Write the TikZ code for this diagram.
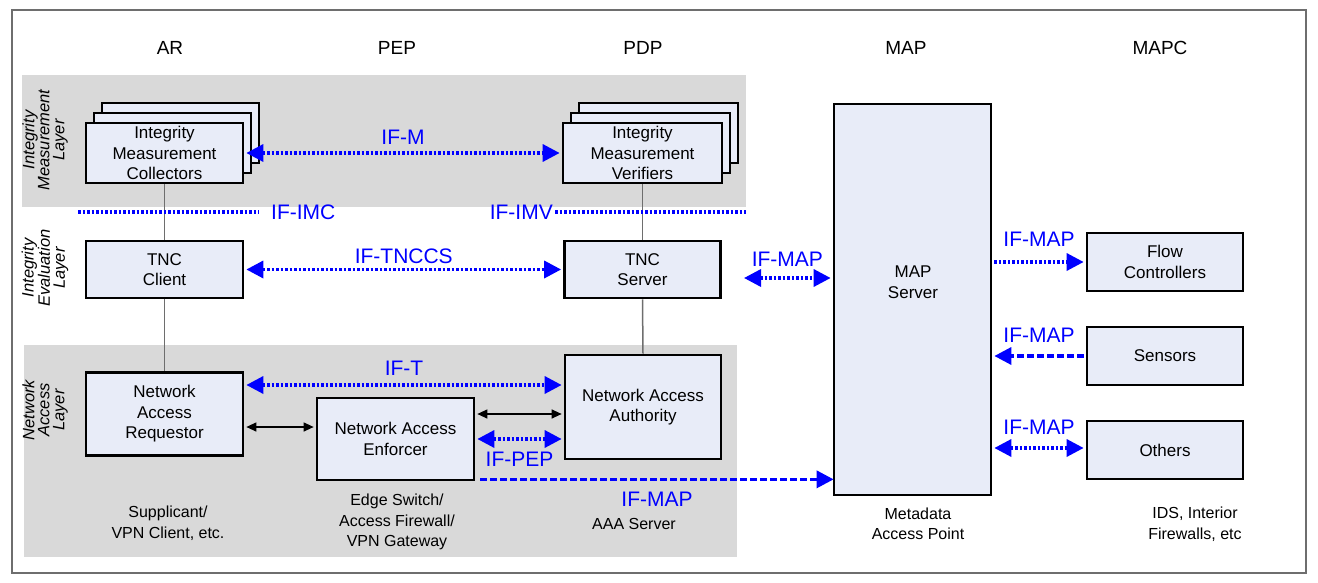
\documentclass[tikz,border=0pt]{standalone}
\usepackage{fontspec}
\setmainfont{Liberation Sans}
\usetikzlibrary{arrows.meta,calc}
\definecolor{boxfill}{HTML}{E8ECF8}
\definecolor{layergray}{HTML}{D9D9D9}
\definecolor{wiregray}{HTML}{6E6E6E}
\tikzset{
  bigtip/.tip={Triangle[length=17pt,width=17pt]},
  smalltip/.tip={Triangle[length=10pt,width=9pt]},
  comp/.style={draw,line width=2.7pt,fill=boxfill,align=center,inner sep=0pt,
    font=\fontsize{17}{20.5}\selectfont},
  ifdot/.style={blue,line width=3.4pt,dash pattern=on 2.6pt off 1.9pt,shorten <=2pt,shorten >=2pt},
  ifdash/.style={blue,line width=3.4pt,dash pattern=on 6.5pt off 3.5pt,shorten <=2pt,shorten >=2pt},
  iflabel/.style={blue,inner sep=0pt,font=\fontsize{21}{24}\selectfont},
  wire/.style={wiregray,line width=1.5pt},
  plain/.style={black,line width=1.2pt,smalltip-smalltip,shorten <=2pt,shorten >=2pt},
  head/.style={font=\fontsize{19}{22}\selectfont},
  note/.style={align=center,font=\fontsize{16}{20.5}\selectfont},
  layer/.style={rotate=90,align=center,font=\fontsize{16.5}{15}\itshape}
}
\begin{document}
\begin{tikzpicture}[x=1pt,y=-1pt]
    \useasboundingbox (0,0) rectangle (1318,583);
    \draw[wiregray,line width=1.4pt] (12,10) rectangle (1306,573);
    \fill[layergray] (22,75) rectangle (746,207);
    \fill[layergray] (24,345) rectangle (737,557);

    \node[head] (ar) at (170,48) {AR};
    \node[head] (pep) at (397,48) {PEP};
    \node[head] (pdp) at (643,48) {PDP};
    \node[head] (map0) at (906,48) {MAP};
    \node[head] (mapc) at (1160,48) {MAPC};

    \node[layer] (lim) at (45,140) {Integrity\\Measurement\\Layer};
    \node[layer] (lie) at (45,268) {Integrity\\Evaluation\\Layer};
    \node[layer] (lna) at (45,410) {Network\\Access\\Layer};

    \begin{scope}[every node/.style={comp}]
    \node[minimum width=157pt,minimum height=60pt] (imc3) at (180.5,133) {};
    \node[minimum width=157pt,minimum height=60pt] (imc2) at (172.5,143) {};
    \node[minimum width=157pt,minimum height=60pt] (imc) at (164.5,153) {Integrity\\Measurement\\Collectors};
    \node[minimum width=159pt,minimum height=60pt] (imv3) at (658.5,133) {};
    \node[minimum width=159pt,minimum height=60pt] (imv2) at (650.5,143) {};
    \node[minimum width=159pt,minimum height=60pt] (imv) at (642.5,153) {Integrity\\Measurement\\Verifiers};
    \node[minimum width=157pt,minimum height=57pt] (tncc) at (164.5,269.5) {TNC\\Client};
    \node[minimum width=156pt,minimum height=57pt] (tncs) at (642.5,269.5) {TNC\\Server};
    \node[minimum width=157pt,minimum height=83pt] (nar) at (164.5,414) {Network\\Access\\Requestor};
    \node[minimum width=157pt,minimum height=82pt] (nae) at (395.5,439) {Network Access\\Enforcer};
    \node[minimum width=156pt,minimum height=104pt] (naa) at (643,407) {Network Access\\Authority};
    \node[minimum width=157pt,minimum height=391pt] (map) at (912.5,299.5) {};
    \node[minimum width=156pt,minimum height=58pt] (flow) at (1165,262) {Flow\\Controllers};
    \node[minimum width=156pt,minimum height=58pt] (sens) at (1165,356) {Sensors};
    \node[minimum width=156pt,minimum height=58pt] (oth) at (1165,450) {Others};
    \end{scope}
    \node[align=center,font=\fontsize{17}{20.5}\selectfont] (maptxt) at (913,282) {MAP\\Server};

    \draw[wire] (imc.south) -- (tncc.north);
    \draw[wire] (tncc.south) -- (nar.north);
    \draw[wire] (imv.south) -- (tncs.north);
    \draw[wire] (tncs.south) -- (naa.north);

    \node[iflabel,anchor=west] (ifimc) at (271,212) {IF-IMC};
    \node[iflabel,anchor=east] (ifimv) at (553,212) {IF-IMV};
    \draw[blue,line width=3.4pt,dash pattern=on 2.6pt off 1.9pt] (78,212) -- ([xshift=-12pt]ifimc.west);
    \draw[blue,line width=3.4pt,dash pattern=on 2.6pt off 1.9pt] ([xshift=2pt]ifimv.east) -- (746,212);

    \draw[ifdot,bigtip-bigtip] (imc.east) -- node[iflabel,above=7pt] (ifm) {IF-M} (imv.west);
    \draw[ifdot,bigtip-bigtip] (tncc.east) -- node[iflabel,above=4pt] (iftnccs) {IF-TNCCS} (tncs.west);
    \draw[ifdot,bigtip-bigtip] ([yshift=29pt]nar.east) -- node[iflabel,above=8pt] (ift) {IF-T} ([yshift=29pt]nar.east -| naa.west);
    \draw[plain] ([yshift=-13pt]nar.east) -- ([yshift=-13pt]nar.east -| nae.west);
    \draw[plain] ([yshift=25pt]nae.east) -- ([yshift=25pt]nae.east -| naa.west);
    \draw[ifdot,bigtip-bigtip] (nae.east) -- node[iflabel,below=11pt] (ifpep) {IF-PEP} (nae.east -| naa.west);
    \draw[ifdash,-bigtip] ([xshift=3pt,yshift=2pt]nae.south east) -- node[iflabel,below=11pt] (ifmap1) {IF-MAP} ([xshift=3pt,yshift=2pt]nae.south east -| map.west);

    \coordinate (mapin) at (742,278);
    \draw[ifdot,bigtip-bigtip] (mapin) -- node[iflabel,above=10pt] (ifmap2) {IF-MAP} (mapin -| map.west);
    \draw[ifdot,-bigtip] (flow.west -| map.east) -- node[iflabel,above=14pt] (ifmap3) {IF-MAP} (flow.west);
    \draw[ifdash,-bigtip] (sens.west) -- node[iflabel,above=12pt] (ifmap4) {IF-MAP} (sens.west -| map.east);
    \draw[ifdot,bigtip-bigtip] ([yshift=2pt]oth.west -| map.east) -- node[iflabel,above=12pt] (ifmap5) {IF-MAP} ([yshift=2pt]oth.west);

    \node[note] (supp) at (168,523) {Supplicant/\\VPN Client, etc.};
    \node[note] (edge) at (397,522) {Edge Switch/\\Access Firewall/\\VPN Gateway};
    \node[note] (aaa) at (634,524) {AAA Server};
    \node[note] (meta) at (918,524) {Metadata\\Access Point};
    \node[note] (ids) at (1195,524) {IDS, Interior\\Firewalls, etc};
\end{tikzpicture}
\end{document}
